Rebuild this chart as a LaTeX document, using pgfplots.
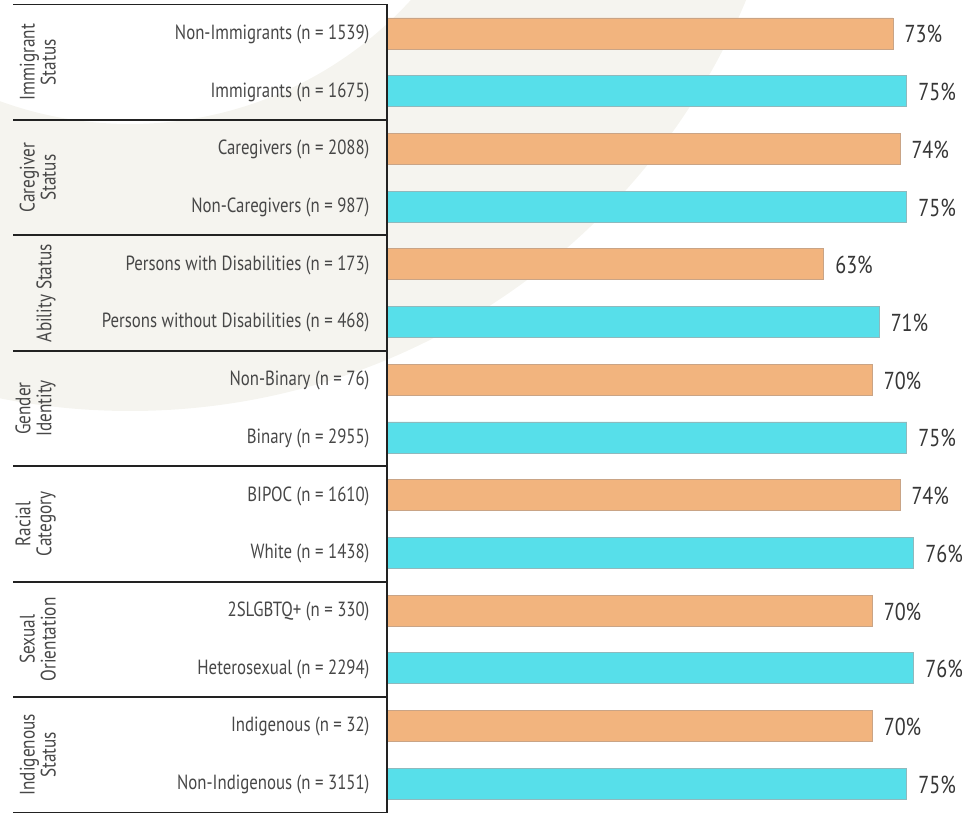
\documentclass[border=0pt]{standalone}
\usepackage{pgfplots}
\pgfplotsset{compat=1.18}
\usepackage{fontspec}
\setmainfont[FakeStretch=0.82]{PT Sans}
\definecolor{orangebar}{HTML}{F2B47E}
\definecolor{cyanbar}{HTML}{57DFEA}
\definecolor{orangeedge}{HTML}{C9A486}
\definecolor{cyanedge}{HTML}{8FB9BD}
\definecolor{txt}{HTML}{474747}
\definecolor{vtxt}{HTML}{363636}
\definecolor{wm}{HTML}{F5F4EF}
\definecolor{linec}{HTML}{222222}
\begin{document}
\begin{tikzpicture}[x=1pt,y=1pt]
\begin{scope}
\clip (0pt,0pt) rectangle (965pt,813pt);
\fill[wm, even odd rule] (130pt,1069pt) circle[radius=667pt] (130pt,1069pt) circle[radius=380pt];
\end{scope}
\begin{axis}[at={(387pt,0.5pt)}, anchor=south west, scale only axis,
  width=578pt, height=808pt,
  xmin=0, xmax=83.4, ymin=-0.5, ymax=13.5, y dir=reverse,
  axis line style={draw=none}, major tick length=0pt,
  xtick=\empty, ytick={0,...,13},
  yticklabels={{Non-Immigrants (n = 1539)},{Immigrants (n = 1675)},{Caregivers (n = 2088)},{Non-Caregivers (n = 987)},{Persons with Disabilities (n = 173)},{Persons without Disabilities (n = 468)},{Non-Binary (n = 76)},{Binary (n = 2955)},{BIPOC (n = 1610)},{White (n = 1438)},{2SLGBTQ+ (n = 330)},{Heterosexual (n = 2294)},{Indigenous (n = 32)},{Non-Indigenous (n = 3151)}},
  yticklabel style={font=\fontsize{20.5}{20.5}\selectfont, text=txt, anchor=east, xshift=-14pt, yshift=-1pt},
  xbar, bar width=31pt, bar shift=0pt,
  clip=false,
  nodes near coords={\pgfmathprintnumber[assume math mode=true]{\pgfplotspointmeta}\%},
  nodes near coords style={anchor=west, xshift=8pt, yshift=-1pt, font=\fontsize{24.5}{24.5}\selectfont, text=vtxt},
]
\addplot[fill=orangebar, draw=orangeedge, line width=0.7pt] coordinates {
(73,0) (74,2) (63,4) (70,6) (74,8) (70,10) (70,12)};
\addplot[fill=cyanbar, draw=cyanedge, line width=0.7pt] coordinates {
(75,1) (75,3) (71,5) (75,7) (76,9) (76,11) (75,13)};
\draw[linec, line width=2.2pt] (axis cs:0,-0.5) -- (axis cs:0,13.5);
\draw[linec, line width=1.8pt] (axis cs:0,-0.5) -- ++(-374pt,0pt);
\draw[linec, line width=1.8pt] (axis cs:0,1.5) -- ++(-374pt,0pt);
\draw[linec, line width=1.8pt] (axis cs:0,3.5) -- ++(-374pt,0pt);
\draw[linec, line width=1.8pt] (axis cs:0,5.5) -- ++(-374pt,0pt);
\draw[linec, line width=1.8pt] (axis cs:0,7.5) -- ++(-374pt,0pt);
\draw[linec, line width=1.8pt] (axis cs:0,9.5) -- ++(-374pt,0pt);
\draw[linec, line width=1.8pt] (axis cs:0,11.5) -- ++(-374pt,0pt);
\draw[linec, line width=1.8pt] (axis cs:0,13.5) -- ++(-374pt,0pt);
\tikzset{grp/.style={rotate=90, anchor=south, align=center, text=txt, font=\fontsize{21}{21}\selectfont, inner sep=0pt}}
\node[grp] at ([xshift=-331pt]axis cs:0,0.5) {Immigrant\\Status};
\node[grp] at ([xshift=-331pt]axis cs:0,2.5) {Caregiver\\Status};
\node[grp] at ([xshift=-331pt]axis cs:0,4.5) {Ability Status};
\node[grp] at ([xshift=-331pt]axis cs:0,6.5) {Gender\\Identity};
\node[grp] at ([xshift=-331pt]axis cs:0,8.5) {Racial\\Category};
\node[grp] at ([xshift=-331pt]axis cs:0,10.5) {Sexual\\Orientation};
\node[grp] at ([xshift=-331pt]axis cs:0,12.5) {Indigenous\\Status};
\end{axis}
\pgfresetboundingbox
\path[use as bounding box] (0pt,0pt) rectangle (965pt,813pt);
\end{tikzpicture}
\end{document}
